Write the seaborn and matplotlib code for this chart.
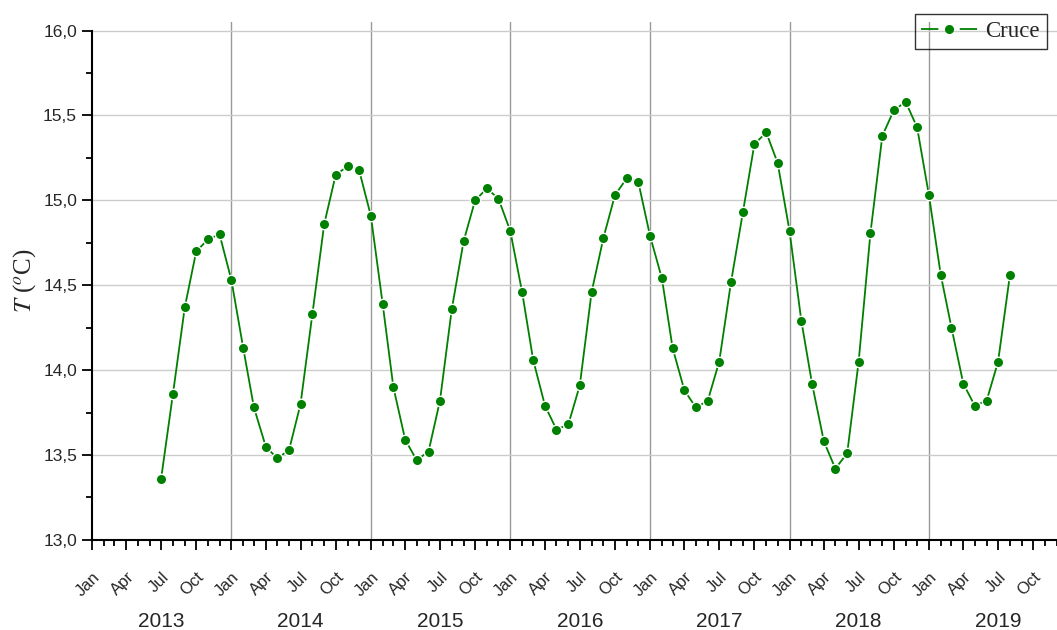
import numpy as np
import pandas as pd
import matplotlib
matplotlib.use("Agg")
import matplotlib.pyplot as plt
import matplotlib.dates as mdates
import matplotlib.transforms as mtransforms
from matplotlib.lines import Line2D
import seaborn as sns

# monthly mean temperature, Jul 2013 .. Aug 2019
start_month = "2013-07-01"
temps = [
    13.36, 13.86, 14.37, 14.70, 14.77, 14.80,
    14.53, 14.13, 13.78, 13.55, 13.48, 13.53, 13.80, 14.33, 14.86, 15.15, 15.20, 15.18,
    14.91, 14.39, 13.90, 13.59, 13.47, 13.52, 13.82, 14.36, 14.76, 15.00, 15.07, 15.01,
    14.82, 14.46, 14.06, 13.79, 13.65, 13.68, 13.91, 14.46, 14.78, 15.03, 15.13, 15.11,
    14.79, 14.54, 14.13, 13.88, 13.78, 13.82, 14.05, 14.52, 14.93, 15.33, 15.40, 15.22,
    14.82, 14.29, 13.92, 13.58, 13.42, 13.51, 14.05, 14.81, 15.38, 15.53, 15.58, 15.43,
    15.03, 14.56, 14.25, 13.92, 13.79, 13.82, 14.05, 14.56,
]
years = [2013, 2014, 2015, 2016, 2017, 2018, 2019]
series_name = "Cruce"

df = pd.DataFrame({
    "fecha": pd.date_range(start_month, periods=len(temps), freq="MS"),
    "T": temps,
})

sns.set_style("ticks")
plt.rcParams["font.family"] = ["Liberation Sans", "DejaVu Sans"]
plt.rcParams["mathtext.fontset"] = "stix"
plt.rcParams["lines.scale_dashes"] = False

fig = plt.figure(figsize=(10.57, 6.3), dpi=100)
# axes run a little past the right edge, as in the original
ax = fig.add_axes([0.087, 0.143, 0.9234, 0.822])

green = "#008000"
sns.lineplot(data=df, x="fecha", y="T", ax=ax, color=green, lw=1.3,
             marker="o", markersize=7.5, markeredgecolor="white",
             markeredgewidth=1.0, legend=False)

for yr in years:
    ax.axvline(pd.Timestamp(f"{yr + 1}-01-01"), color="#999999", lw=1.0, zorder=0)

ax.set_xlim(pd.Timestamp("2013-01-01"), pd.Timestamp("2019-12-31"))
ax.set_ylim(13.0, 16.05)
ax.set_yticks(np.arange(13.0, 16.01, 0.5))
ax.set_yticks(np.arange(13.0, 16.01, 0.25), minor=True)
ax.yaxis.set_major_formatter(matplotlib.ticker.FuncFormatter(
    lambda v, p: f"{v:.1f}".replace(".", ",")))
ax.grid(axis="y", which="major", color="#cccccc", lw=1.0, zorder=0)

ax.xaxis.set_major_locator(mdates.MonthLocator(bymonth=[1, 4, 7, 10]))
ax.xaxis.set_minor_locator(mdates.MonthLocator())
ax.xaxis.set_major_formatter(mdates.DateFormatter("%b"))
plt.setp(ax.get_xticklabels(), rotation=45, ha="right", rotation_mode="anchor")

ax.tick_params(axis="both", which="major", length=7.2, width=1.3, color="black")
ax.tick_params(axis="both", which="minor", length=4.3, width=1.3, color="black")
ax.tick_params(axis="y", which="major", labelsize=12.5)
ax.tick_params(axis="x", which="major", labelsize=12, pad=14)

for side in ["top", "right"]:
    ax.spines[side].set_visible(False)
for side in ["left", "bottom"]:
    ax.spines[side].set_linewidth(1.5)
    ax.spines[side].set_color("black")
ax.spines["left"].set_bounds(13.0, 16.0)

trans = mtransforms.blended_transform_factory(ax.transData, ax.transAxes)
for yr in years:
    ax.text(pd.Timestamp(f"{yr}-07-01"), -0.157, str(yr), transform=trans,
            ha="center", va="center", fontsize=15)

ax.set_xlabel("")
ax.set_ylabel(r"$T$ ($^{o}$C)", fontsize=18, family="Liberation Serif", labelpad=4)

# legend handle: line - gap - dot - gap - line
handle = Line2D([], [], color=green, lw=1.3, marker="o", markersize=5.5,
                markeredgecolor=green, dashes=(12.5, 15.4))
leg = ax.legend([handle], [series_name], loc="upper right",
                bbox_to_anchor=(0.9905, 0.978), bbox_transform=fig.transFigure,
                frameon=True, fancybox=False, facecolor="none", framealpha=None,
                edgecolor="black", borderpad=0.3, borderaxespad=0,
                handlelength=2.45, handletextpad=0.35, numpoints=1,
                prop={"family": "Liberation Serif", "size": 16.5})
leg.get_frame().set_linewidth(1.0)

fig.savefig("out.png", dpi=100)
